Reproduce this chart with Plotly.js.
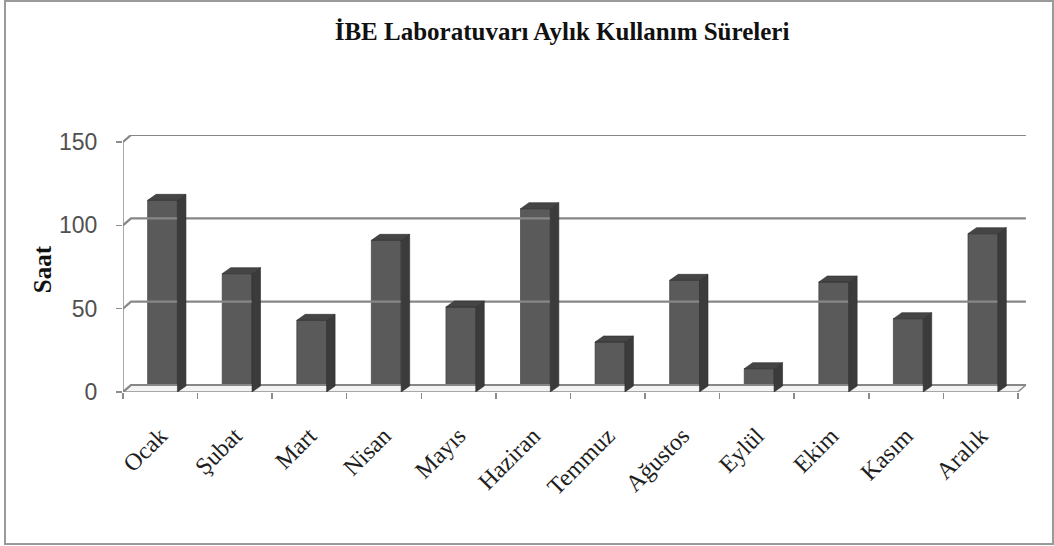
<!DOCTYPE html>
<html>
<head>
<meta charset="utf-8">
<script src="https://cdn.plot.ly/plotly-3.0.1.min.js"></script>
<style>
  html, body { margin: 0; padding: 0; background: #ffffff; }
  #wrap { position: relative; width: 1054px; height: 546px; }
  #chart { width: 1054px; height: 546px; }
  #frame { position: absolute; left: 4px; top: 0px; width: 1046px; height: 541px;
           border: 2px solid #9a9a9a; pointer-events: none; }
</style>
</head>
<body>
<div id="wrap">
  <div id="chart"></div>
  <div id="frame"></div>
</div>
<script>
// ---- data ----
const months = ["Ocak", "Şubat", "Mart", "Nisan", "Mayıs", "Haziran",
                "Temmuz", "Ağustos", "Eylül", "Ekim", "Kasım", "Aralık"];
const hours = [115, 71, 43, 91, 51, 110, 30, 67, 14, 66, 44, 95];
const yTicks = [0, 50, 100, 150];
const chartTitle = "İBE Laboratuvarı Aylık Kullanım Süreleri";
const yTitle = "Saat";

// ---- 3D look parameters (in axis units) ----
const wallDx = 0.107, wallDy = 4.2;   // depth offset of back wall
const barDx = 0.114, barDy = 3.6;     // depth of bars
const barOff = -0.17, barW = 0.40;

const idx = months.map((m, i) => i);
const n = months.length;
const xMin = -0.5, xMax = n - 0.5;

// floor
const floorTrace = {
  type: "scatter", mode: "lines", hoverinfo: "skip",
  x: [xMin, xMax, xMax + wallDx, xMin + wallDx, xMin],
  y: [0, 0, wallDy, wallDy, 0],
  fill: "toself", fillcolor: "#f3f3f3",
  line: { color: "#8e8e8e", width: 1.5 }
};

// back-wall gridlines with diagonal connector from front axis
const gx = [], gy = [];
yTicks.forEach(t => {
  gx.push(xMin, xMin + wallDx, xMax + wallDx, null);
  gy.push(t, t + wallDy, t + wallDy, null);
});
const gridTrace = {
  type: "scatter", mode: "lines", hoverinfo: "skip",
  x: gx, y: gy, line: { color: "#878787", width: 2.2 }
};

// front vertical axis line
const yLineTrace = {
  type: "scatter", mode: "lines", hoverinfo: "skip",
  x: [xMin, xMin], y: [0, yTicks[yTicks.length - 1]],
  line: { color: "#8c8c8c", width: 1.5 }
};

// side and top faces
const sx = [], sy = [], tx = [], ty = [];
idx.forEach(i => {
  const v = hours[i];
  const r = i + barOff + barW, l = i + barOff;
  sx.push(r, r + barDx, r + barDx, r, r, null);
  sy.push(0, barDy, v + barDy, v, 0, null);
  tx.push(l, l + barDx, r + barDx, r, l, null);
  ty.push(v, v + barDy, v + barDy, v, v, null);
});
const sideTrace = {
  type: "scatter", mode: "lines", hoverinfo: "skip",
  x: sx, y: sy, fill: "toself", fillcolor: "#3b3b3b",
  line: { color: "#2e2e2e", width: 0.6 }
};
const topTrace = {
  type: "scatter", mode: "lines", hoverinfo: "skip",
  x: tx, y: ty, fill: "toself", fillcolor: "#454545",
  line: { color: "#2e2e2e", width: 0.6 }
};

// front faces
const barTrace = {
  type: "bar", x: idx, y: hours, width: barW, offset: barOff,
  marker: { color: "#5a5a5a", line: { color: "#333333", width: 0.6 } },
  hoverinfo: "skip"
};

const data = [floorTrace, gridTrace, yLineTrace, sideTrace, topTrace, barTrace];

const layout = {
  width: 1054, height: 546,
  margin: { l: 123, r: 26, t: 135, b: 154 },
  paper_bgcolor: "#ffffff", plot_bgcolor: "rgba(0,0,0,0)",
  showlegend: false,
  title: {
    text: chartTitle,
    font: { family: "Liberation Serif, Times New Roman, serif", size: 25, color: "#111111", weight: "bold" },
    x: 562 / 1054, xanchor: "center", xref: "container",
    y: 1 - 31 / 546, yanchor: "middle", yref: "container"
  },
  xaxis: {
    range: [xMin, xMax + 0.135],
    tickmode: "array", tickvals: idx, ticktext: months,
    tickangle: -45, ticks: "",
    ticklabelstandoff: 24,
    tickfont: { family: "Liberation Serif, Times New Roman, serif", size: 24, color: "#1e1e1e" },
    showgrid: false, zeroline: false, showline: false,
    minor: { tickmode: "linear", tick0: -0.5, dtick: 1, ticks: "outside", ticklen: 6,
             tickcolor: "#8c8c8c", tickwidth: 1.5, showgrid: false },
    fixedrange: true
  },
  yaxis: {
    range: [0, yTicks[yTicks.length - 1] + wallDy],
    tickmode: "array", tickvals: yTicks, ticktext: yTicks.map(String),
    ticks: "outside", ticklen: 6, tickcolor: "#8c8c8c", tickwidth: 1.5,
    ticklabelstandoff: 14,
    tickfont: { family: "Liberation Sans, Arial, sans-serif", size: 23, color: "#505050" },
    showgrid: false, zeroline: false, showline: false,
    fixedrange: true
  },
  annotations: [{
    text: "<b>" + yTitle + "</b>", textangle: -90,
    xref: "paper", yref: "paper", x: -0.088, y: 0.479,
    xanchor: "center", yanchor: "middle", showarrow: false,
    font: { family: "Liberation Serif, Times New Roman, serif", size: 25, color: "#111111" }
  }]
};

Plotly.newPlot("chart", data, layout, { staticPlot: true, displayModeBar: false });
</script>
</body>
</html>
